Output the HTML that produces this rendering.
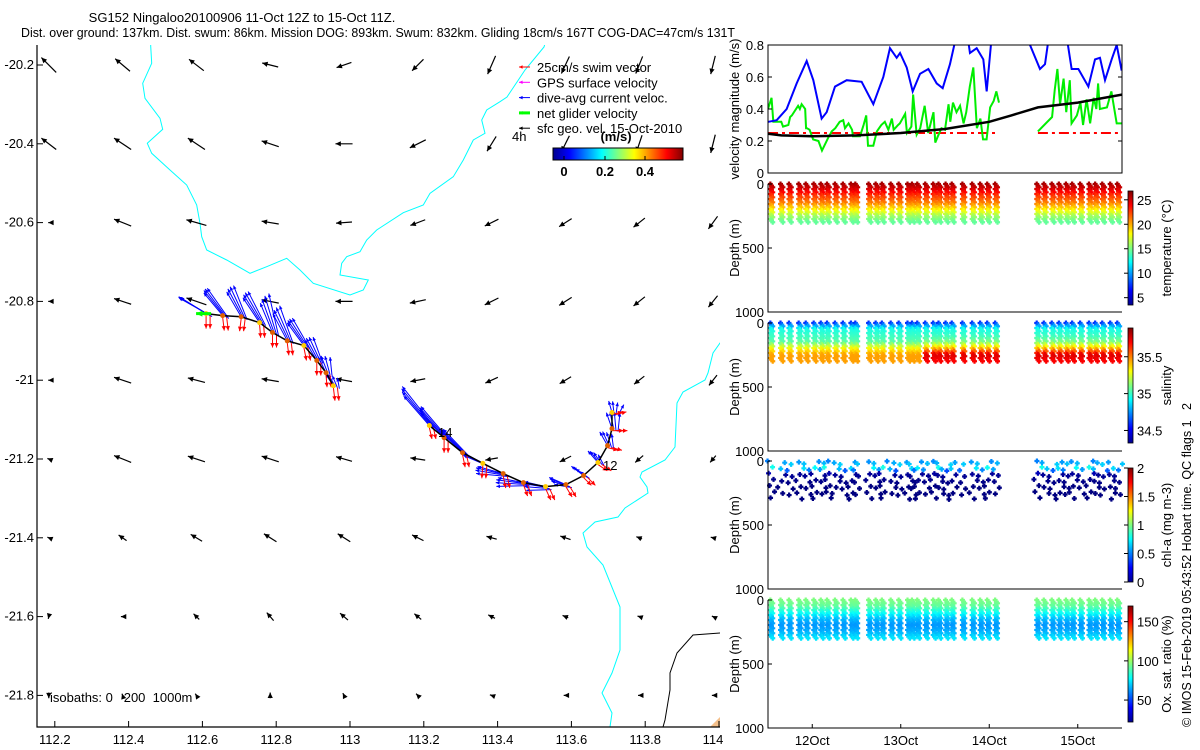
<!DOCTYPE html>
<html><head><meta charset="utf-8"><style>
body{margin:0;background:#fff;}
svg{display:block;font-family:"Liberation Sans",sans-serif;}
</style></head><body>
<svg id="fig" width="1200" height="750" viewBox="0 0 1200 750" xmlns="http://www.w3.org/2000/svg">
<defs>
<clipPath id="mapclip"><rect x="37" y="45" width="683" height="682"/></clipPath>
<clipPath id="velclip"><rect x="768" y="45" width="354" height="128"/></clipPath>
<linearGradient id="jetH" x1="0" x2="1" y1="0" y2="0">
<stop offset="0" stop-color="#00008f"/><stop offset="0.125" stop-color="#0000ff"/><stop offset="0.375" stop-color="#00ffff"/><stop offset="0.625" stop-color="#ffff00"/><stop offset="0.875" stop-color="#ff0000"/><stop offset="1" stop-color="#800000"/></linearGradient>
<linearGradient id="jetV" x1="0" x2="0" y1="1" y2="0">
<stop offset="0" stop-color="#00008f"/><stop offset="0.125" stop-color="#0000ff"/><stop offset="0.375" stop-color="#00ffff"/><stop offset="0.625" stop-color="#ffff00"/><stop offset="0.875" stop-color="#ff0000"/><stop offset="1" stop-color="#800000"/></linearGradient>
</defs>
<text x="242" y="22" font-size="13" text-anchor="middle">SG152 Ningaloo20100906 11-Oct 12Z to 15-Oct 11Z.</text>
<text x="21" y="37" font-size="12.5" textLength="714" lengthAdjust="spacingAndGlyphs">Dist. over ground: 137km. Dist. swum: 86km. Mission DOG: 893km. Swum: 832km. Gliding 18cm/s 167T COG-DAC=47cm/s 131T</text>
<g id="map"></g>
<g id="right"></g>
<text transform="translate(1191,727) rotate(-90)" font-size="13" textLength="324" lengthAdjust="spacingAndGlyphs" style="white-space:pre">© IMOS 15-Feb-2019 05:43:52 Hobart time. QC flags 1   2</text>
</svg>
<script>
// ---------- data ----------
const lonTicks=[112.2,112.4,112.6,112.8,113,113.2,113.4,113.6,113.8,114];
const latTicks=[-20.2,-20.4,-20.6,-20.8,-21,-21.2,-21.4,-21.6,-21.8];
const geoU=[[-0.26,-0.26,-0.26,-0.28,-0.26,-0.2,-0.14,-0.14,-0.12,-0.08],[-0.26,-0.3,-0.3,-0.3,-0.3,-0.28,-0.16,-0.14,-0.1,-0.08],[-0.02,-0.3,-0.35,-0.3,-0.28,-0.26,-0.24,-0.22,-0.2,-0.16],[-0.02,-0.3,-0.35,-0.3,-0.3,-0.28,-0.24,-0.22,-0.2,-0.16],[-0.02,-0.3,-0.3,-0.3,-0.28,-0.26,-0.22,-0.2,-0.18,-0.14],[-0.05,-0.3,-0.3,-0.3,-0.28,-0.26,-0.22,-0.2,-0.14,-0.1],[-0.05,-0.14,-0.2,-0.22,-0.22,-0.2,-0.18,-0.18,-0.1,-0.08],[-0.02,-0.06,-0.1,-0.12,-0.14,-0.12,-0.12,-0.1,-0.06,-0.04],[0,-0.02,-0.04,0,-0.04,-0.06,-0.06,-0.06,-0.04,-0.04]];
const geoV=[[0.26,0.22,0.2,0.07,-0.09,-0.2,-0.32,-0.3,-0.3,-0.32],[0.2,0.2,0.2,0.1,0,-0.14,-0.26,-0.28,-0.3,-0.32],[0,0.12,0.1,0.05,-0.02,-0.1,-0.12,-0.14,-0.16,-0.22],[0,0.1,0.12,0.06,0,-0.06,-0.12,-0.14,-0.16,-0.2],[0,0.1,0.08,0.05,0.05,-0.05,-0.1,-0.12,-0.14,-0.18],[0.02,0.12,0.1,0.1,0.08,0.04,-0.04,-0.1,-0.12,-0.12],[0.02,0.1,0.12,0.14,0.14,0.1,0.05,0.06,0.04,0.02],[-0.08,0,0.1,0.14,0.12,0.1,0.06,0.04,0.02,0.02],[-0.1,0.06,0.06,0.1,0.08,0.06,0.02,0,0,0]];
const trackLon1=[112.61,112.655,112.705,112.755,112.79,112.83,112.875,112.91,112.935,112.955];
const trackLat1=[-20.831,-20.836,-20.839,-20.854,-20.879,-20.9,-20.912,-20.95,-20.981,-21.014];
const dacU1=[-0.5,-0.35,-0.25,-0.3,-0.2,-0.25,-0.3,-0.2,-0.1,-0.1];
const dacV1=[0.3,0.45,0.5,0.5,0.6,0.55,0.45,0.4,0.3,0.2];
const swimU1=[0,0.03,-0.03,0.02,0,0.03,0.05,0,0.02,0.03];
const swimV1=[-0.25,-0.25,-0.24,-0.25,-0.25,-0.24,-0.25,-0.25,-0.24,-0.25];
const trackLon2=[113.215,113.255,113.305,113.36,113.415,113.47,113.53,113.585,113.633,113.672,113.698,113.71,113.71];
const trackLat2=[-21.115,-21.146,-21.184,-21.211,-21.237,-21.26,-21.27,-21.265,-21.242,-21.209,-21.166,-21.123,-21.082];
const dacU2=[-0.5,-0.45,-0.4,-0.4,-0.5,-0.5,-0.4,-0.3,-0.2,-0.15,-0.1,-0.05,0];
const dacV2=[0.6,0.5,0.4,0.2,0.1,0.05,0.05,0.1,0.15,0.2,0.25,0.3,0.2];
const swimU2=[0.05,0,0.05,-0.02,0.05,0.08,0.1,0.12,0.15,0.18,0.2,0.22,0.2];
const swimV2=[-0.22,-0.25,-0.24,-0.25,-0.24,-0.22,-0.22,-0.2,-0.15,-0.12,-0.05,0,0.05];
// velocity panel
const blueT=[11.504,11.598,11.711,11.824,11.937,12.012,12.106,12.163,12.257,12.389,12.558,12.69,12.803,12.878,12.954,12.992,13.067,13.135,13.218,13.312,13.406,13.474,13.556,13.613,13.764,13.782,13.858,13.933,13.971,14.027,14.197,14.423,14.573,14.63,14.686,14.781,14.875,14.931,15.007,15.12,15.195,15.251,15.308,15.383,15.44,15.496];
const blueV=[0.32,0.33,0.40,0.56,0.70,0.58,0.34,0.38,0.54,0.58,0.57,0.43,0.60,0.78,0.72,0.75,0.66,0.51,0.62,0.65,0.56,0.53,0.68,0.82,0.82,0.75,0.78,0.71,0.51,0.85,1.0,0.85,0.65,0.68,0.9,0.95,0.85,0.65,0.65,0.54,0.71,0.72,0.58,0.71,0.8,0.64];
const green1T=[11.50,11.54,11.56,11.65,11.67,11.73,11.75,11.77,11.84,11.86,11.88,11.92,11.93,11.94,11.97,12.01,12.07,12.11,12.18,12.22,12.26,12.31,12.35,12.37,12.41,12.45,12.46,12.54,12.58,12.61,12.63,12.69,12.73,12.78,12.82,12.86,12.90,12.92,12.97,12.99,13.05,13.07,13.12,13.14,13.18,13.22,13.27,13.31,13.37,13.39,13.42,13.46,13.50,13.54,13.56,13.59,13.63,13.67,13.71,13.74,13.78,13.82,13.86,13.90,13.93,13.97,14.01,14.05,14.08,14.11];
const green1V=[0.40,0.47,0.32,0.32,0.29,0.30,0.35,0.36,0.42,0.40,0.43,0.40,0.28,0.28,0.27,0.21,0.20,0.14,0.22,0.26,0.28,0.32,0.33,0.28,0.31,0.27,0.23,0.23,0.30,0.36,0.17,0.17,0.26,0.30,0.32,0.27,0.34,0.27,0.30,0.31,0.37,0.25,0.29,0.49,0.24,0.28,0.42,0.25,0.38,0.19,0.23,0.28,0.27,0.43,0.32,0.44,0.38,0.42,0.31,0.38,0.54,0.66,0.28,0.34,0.21,0.21,0.41,0.45,0.51,0.44];
const green2T=[14.55,14.71,14.74,14.77,14.80,14.84,14.87,14.91,14.93,14.99,15.03,15.06,15.10,15.14,15.18,15.21,15.23,15.25,15.33,15.38,15.44,15.50];
const green2V=[0.26,0.35,0.52,0.65,0.43,0.59,0.38,0.58,0.31,0.36,0.44,0.30,0.46,0.31,0.47,0.40,0.56,0.40,0.41,0.51,0.31,0.31];
const blackT=[11.5,11.65,12.0,12.5,13.0,13.5,14.0,14.25,14.55,15.0,15.5];
const blackV=[0.245,0.235,0.23,0.235,0.25,0.275,0.32,0.36,0.41,0.44,0.49];
const redSegT=[[11.5,14.1],[14.55,15.5]];
const redV=0.25;
const velTicks=[0,0.2,0.4,0.6,0.8];
const dayTicks=[12,13,14,15];
const dayLabels=["12Oct","13Oct","14Oct","15Oct"];
// dives
const diveT=[11.54,11.655,11.75,11.86,11.94,12.03,12.11,12.18,12.27,12.36,12.45,12.50,12.65,12.73,12.80,12.90,12.99,13.09,13.14,13.20,13.29,13.38,13.44,13.52,13.59,13.71,13.82,13.91,13.99,14.08,14.55,14.63,14.72,14.80,14.88,14.95,15.04,15.14,15.21,15.29,15.38,15.46];
const profDepths=[0,50,100,150,200,250,300];
const tempProf=[26,24.5,22.5,21,18.5,16,14.5];
const salProfEarly=[34.6,34.95,35.0,35.05,35.3,35.45,35.45];
const salProfLate=[34.6,34.95,35.0,35.1,35.4,35.75,35.7];
const chlProf=[0.5,0.8,0.05,0.02,0,0,0];
const oxyProf=[96,92,80,68,62,66,74];
const tempTicks=[5,10,15,20,25], salTicks=[34.5,35,35.5], chlTicks=[0,0.5,1,1.5,2], oxyTicks=[50,100,150];

// ---------- helpers ----------
const NS="http://www.w3.org/2000/svg";
function mk(parent,tag,attrs,text){const e=document.createElementNS(NS,tag);for(const k in attrs)e.setAttribute(k,attrs[k]);if(text!==undefined)e.textContent=text;parent.appendChild(e);return e;}
function jet(f){f=Math.max(0,Math.min(1,f));const c=x=>Math.round(255*Math.max(0,Math.min(1,x)));return `rgb(${c(1.5-Math.abs(4*f-3))},${c(1.5-Math.abs(4*f-2))},${c(1.5-Math.abs(4*f-1))})`;}
const map=document.getElementById('map'), right=document.getElementById('right');
const lonX=lon=>719-(114-lon)*369;
const latY=lat=>65+(-20.2-lat)*394;
const QS=57;
function arrow(g,x1,y1,x2,y2,col,w,hs,name){
  const ln=mk(g,'line',{x1:x1,y1:y1,x2:x2,y2:y2,stroke:col,'stroke-width':w});
  
  
  const a=Math.atan2(y2-y1,x2-x1);
  const p=[[x2,y2],[x2-hs*Math.cos(a-0.45),y2-hs*Math.sin(a-0.45)],[x2-hs*Math.cos(a+0.45),y2-hs*Math.sin(a+0.45)]];
  const h=mk(g,'polygon',{points:p.map(q=>q.join(',')).join(' '),fill:col});
  
  
}

// ---------- map ----------
const mg=mk(map,'g',{'clip-path':'url(#mapclip)'});
const coast1=mk(mg,'polyline',{points:"150.7,40 150.7,46 151.7,63.3 142.7,83.3 145,98.3 160,118.3 162.7,129.3 147.3,143.3 151.7,153.3 170,170 186.7,185 196.7,205 200,223.3 201.7,236.7 206.7,250 226.7,260 250,273.3 266.7,266.7 286.7,258.3 300,270 313.3,283.3 350,295 363.3,290 368.3,280 340,275 341.7,263.3 346.7,256.7 360,251.7 366.7,240 376.7,230 403.3,212.7 423.3,205 430,193.3 453.3,176.7 463.3,160 473.3,140 485,133.3 481.7,120 486.7,110 500,101.7 507,97 525,70 544,47 546,40",fill:'none',stroke:'#00ffff','stroke-width':1});


const coast2=mk(mg,'polyline',{points:"722,340 720,343 713,353 708,373 705,380 683,392 677,403 675,447 665,460 642,472 640,477 647,487 648,493 625,508 618,517 595,522 583,533 587,547 603,565 620,607 620,650 612,673 602,693 612,713 610,727",fill:'none',stroke:'#00ffff','stroke-width':1});


const coast3=mk(mg,'polyline',{points:"722,633 720,633 693,635 677,653 670,673 670,690 665,720 663,727",fill:'none',stroke:'#000','stroke-width':1});


const land=mk(mg,'polygon',{points:"710,727 720,717 720,727",fill:'#f5c08a'});


latTicks.forEach((lat,r)=>lonTicks.forEach((lon,c)=>{
  const cx=lonX(lon)-6,cy=latY(lat),dx=geoU[r][c]*QS,dy=-geoV[r][c]*QS;
  arrow(mg,cx-dx/2,cy-dy/2,cx+dx/2,cy+dy/2,'#000',1.2,6,'geo-velocity-arrow');
}));
function drawTrack(lons,lats,du,dv,su,sv,nm){
  for(let i=0;i<lons.length;i++){
    const x=lonX(lons[i]),y=latY(lats[i]);
    for(let k=0;k<4;k++){
      const f=0.6+0.15*k;
      arrow(mg,x+k*2,y+k,x+k*2+(du[i]+0.05*(k-1.5))*QS*1.3*f,y+k-(dv[i]-0.04*(k-1.5))*QS*1.3*f,'#0000ff',1,4,nm+'-dac-vector');
    }
  }
  for(let i=0;i<lons.length;i++){
    const x=lonX(lons[i]),y=latY(lats[i]);
    for(let k=0;k<2;k++){
      arrow(mg,x+k*4,y+2,x+k*4+su[i]*52,y+2-sv[i]*52,'#ff0000',1,5,nm+'-swim-vector');
    }
  }
  const pl=mk(mg,'polyline',{points:lons.map((l,i)=>lonX(l)+','+latY(lats[i])).join(' '),fill:'none',stroke:'#000','stroke-width':1.5});
  
  
  lons.forEach((l,i)=>{const c=mk(mg,'circle',{cx:lonX(l),cy:latY(lats[i]),r:2.5,fill:i%3==0?'#ffcc00':'#e06000'});
    
    });
}
drawTrack(trackLon1,trackLat1,dacU1,dacV1,swimU1,swimV1,'track-segment-1');
drawTrack(trackLon2,trackLat2,dacU2,dacV2,swimU2,swimV2,'track-segment-2');
arrow(mg,lonX(trackLon1[0])+5,latY(trackLat1[0]),lonX(trackLon1[0])-10,latY(trackLat1[0]),'#00ff00',3,7,'net-glider-velocity');
const l14=mk(map,'text',{x:438,y:437,'font-size':13},'14');


const l12=mk(map,'text',{x:603,y:470,'font-size':13},'12');


const ax=mk(map,'path',{d:'M37,45 V727 H720',fill:'none',stroke:'#000','stroke-width':1.2});


lonTicks.forEach(l=>{const x=lonX(l);
  const t=mk(map,'line',{x1:x,y1:727,x2:x,y2:721,stroke:'#000'});
  
  
  const tx=mk(map,'text',{x:Math.min(x,713),y:744,'font-size':13,'text-anchor':'middle'},String(l));
  
  });
latTicks.forEach(l=>{const y=latY(l);
  const t=mk(map,'line',{x1:37,y1:y,x2:43,y2:y,stroke:'#000'});
  
  
  const tx=mk(map,'text',{x:34,y:y+4,'font-size':13,'text-anchor':'end'},String(l));
  
  });
const iso=mk(map,'text',{x:50,y:702,'font-size':13,style:'white-space:pre'},'isobaths: 0   200  1000m');


const legItems=[['#ff0000','25cm/s swim vector',1],['#ff00ff','GPS surface velocity',1],['#0000ff','dive-avg current veloc.',1],['#00ff00','net glider velocity',3],['#000000','sfc geo. vel. 15-Oct-2010',1]];
legItems.forEach((it,i)=>{const y=67+i*15.3;
  arrow(map,530,y,519,y,it[0],it[2],4,'legend-entry-line');
  const t=mk(map,'text',{x:537,y:y+5,'font-size':13},it[1]);
  
  });
const l4h=mk(map,'text',{x:512,y:141,'font-size':13},'4h');


const ms=mk(map,'text',{x:616,y:141,'font-size':13,'font-weight':'bold','text-anchor':'middle'},'(m/s)');


const hcb=mk(map,'rect',{x:553,y:148,width:130,height:12,fill:'url(#jetH)',stroke:'#000'});


[['0',564],['0.2',605],['0.4',645]].forEach(p=>{
  const t=mk(map,'text',{x:p[1],y:176,'font-size':13,'font-weight':'bold','text-anchor':'middle'},p[0]);
  
  
  const tk=mk(map,'line',{x1:p[1],y1:160,x2:p[1],y2:156,stroke:'#000'});
  
  });

// ---------- velocity panel ----------
const PX0=768,PX1=1122;
const tX=t=>PX0+(t-11.5)*88.5;
const vY=v=>173-v*160;
const vg=mk(right,'g',{'clip-path':'url(#velclip)'});
function pline(g,T,V,col,w,name,dash){const p=mk(g,'polyline',{points:T.map((t,i)=>tX(t)+','+vY(V[i])).join(' '),fill:'none',stroke:col,'stroke-width':w});
  if(dash)p.setAttribute('stroke-dasharray',dash);
  
  }
redSegT.forEach(s=>pline(vg,s,[redV,redV],'#ff0000',2,'glide-speed-line','10,4,3,4'));
pline(vg,green1T,green1V,'#00ee00',2,'net-glider-speed-line-1');
pline(vg,green2T,green2V,'#00ee00',2,'net-glider-speed-line-2');
pline(vg,blueT,blueV,'#0000ff',2,'dac-speed-line');
pline(vg,blackT,blackV,'#000',2.5,'geo-speed-line');
const vbox=mk(right,'rect',{x:PX0,y:45,width:PX1-PX0,height:128,fill:'none',stroke:'#000'});


velTicks.forEach(v=>{const y=vY(v);
  const t=mk(right,'text',{x:764,y:y+5,'font-size':13,'text-anchor':'end'},String(v));
  
  
  const tk=mk(right,'path',{d:`M${PX0},${y}h4M${PX1},${y}h-4`,stroke:'#000'});
  
  });
const vt=mk(right,'text',{transform:'translate(739,109) rotate(-90)','font-size':13,'text-anchor':'middle'},'velocity magnitude (m/s)');



// ---------- profile panels ----------
const panels=[
 {top:184,cbT:191,cbB:305,vmin:3.5,vmax:26.8,ticks:tempTicks,title:'temperature (°C)',name:'temperature',prof:t=>tempProf,step:13,maxD:300},
 {top:323,cbT:328,cbB:443,vmin:34.33,vmax:35.89,ticks:salTicks,title:'salinity',name:'salinity',prof:t=>t>13.28?salProfLate:salProfEarly,step:13,maxD:310},
 {top:461,cbT:468,cbB:582,vmin:0,vmax:2,ticks:chlTicks,title:'chl-a (mg m-3)',name:'chlorophyll',prof:t=>chlProf,step:48,maxD:300},
 {top:600,cbT:606,cbB:722,vmin:22,vmax:170,ticks:oxyTicks,title:'Ox. sat. ratio (%)',name:'oxygen',prof:t=>oxyProf,step:13,maxD:310}];
function interp(D,V,d){for(let i=0;i<D.length-1;i++){if(d<=D[i+1]){const f=(d-D[i])/(D[i+1]-D[i]);return V[i]+f*(V[i+1]-V[i]);}}return V[V.length-1];}
panels.forEach(P=>{
  const dY=d=>P.top+d/1000*128;
  const g=mk(right,'g',{});
  
  
  diveT.forEach((t,i)=>{
    const pr=P.prof(t);
    const off=P.name==='chlorophyll'?((i*13)%30):0;
    let k=0;
    for(let d=off;d<=P.maxD;d+=P.step,k++){
      const x=tX(t)+(P.name==='chlorophyll'?((i*7+k*5)%9-4):((k%3)-1)*1.2);
      const v=interp(profDepths,pr,d);
      const y=dY(d);
      const c=mk(g,'path',{d:`M${x-2.5},${y}h5M${x},${y-2.5}v5`,stroke:jet((v-P.vmin)/(P.vmax-P.vmin)),'stroke-width':2.2});
      
      
    }
  });
  const fr=mk(right,'path',{d:`M${PX0},${P.top} V${P.top+128} H${PX1}`,fill:'none',stroke:'#000'});
  
  
  [[0,'0'],[500,'500'],[1000,'1000']].forEach(q=>{
    const t=mk(right,'text',{x:764,y:dY(q[0])+5,'font-size':13,'text-anchor':'end'},q[1]);
    
    
    const tk=mk(right,'line',{x1:PX0,y1:dY(q[0]),x2:PX0+4,y2:dY(q[0]),stroke:'#000'});
    
    });
  const dt=mk(right,'text',{transform:`translate(739,${P.top+64}) rotate(-90)`,'font-size':13,'text-anchor':'middle'},'Depth (m)');
  
  
  const cb=mk(right,'rect',{x:1128,y:P.cbT,width:5,height:P.cbB-P.cbT,fill:'url(#jetV)',stroke:'#000','stroke-width':0.8});
  
  
  P.ticks.forEach(v=>{const y=P.cbB-(v-P.vmin)/(P.vmax-P.vmin)*(P.cbB-P.cbT);
    const t=mk(right,'text',{x:1137,y:y+5,'font-size':13},String(v));
    
    
    const tk=mk(right,'line',{x1:1124,y1:y,x2:1128,y2:y,stroke:'#000'});
    
    });
  const ct=mk(right,'text',{transform:`translate(1171,${(P.cbT+P.cbB)/2}) rotate(-90)`,'font-size':13,'text-anchor':'middle'},P.title);
  
  
});
dayTicks.forEach((d,i)=>{const x=tX(d);
  const t=mk(right,'text',{x:x,y:745,'font-size':13,'text-anchor':'middle'},dayLabels[i]);
  
  
  const tk=mk(right,'line',{x1:x,y1:728,x2:x,y2:724,stroke:'#000'});
  
  });
</script>
</body></html>
